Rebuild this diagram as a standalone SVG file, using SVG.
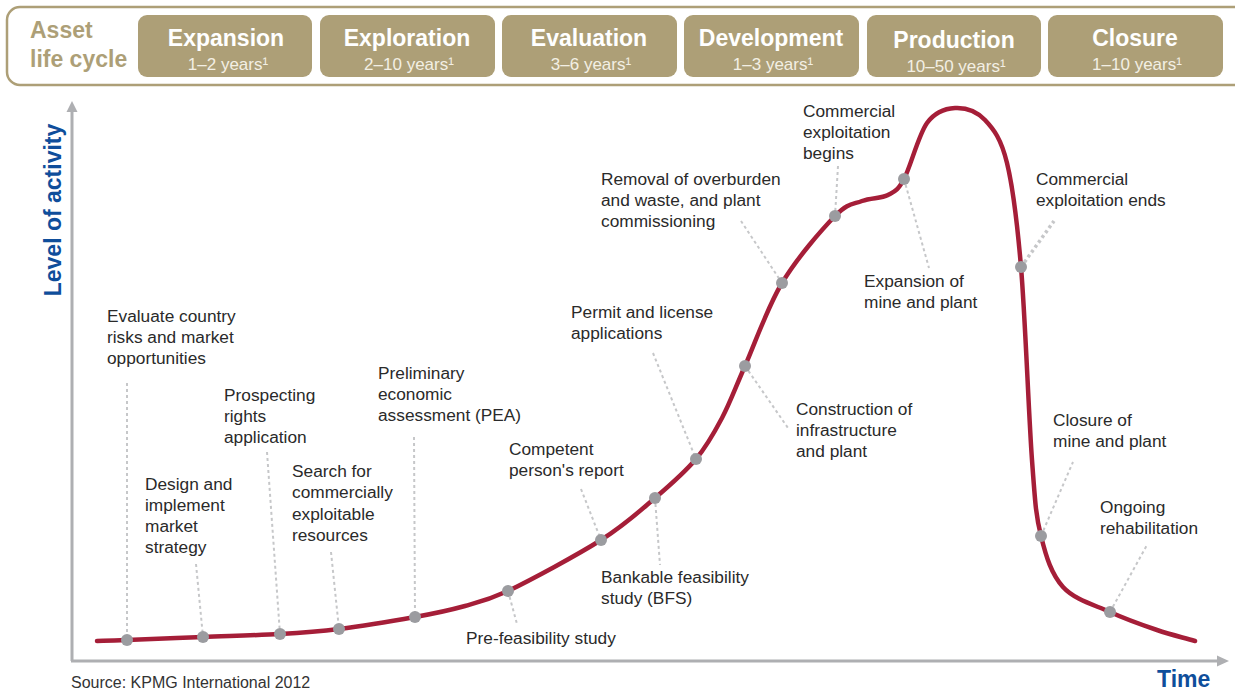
<svg xmlns="http://www.w3.org/2000/svg" width="1235" height="691" viewBox="0 0 1235 691">
<defs>
<style>
.phase rect{fill:#AD9F77;}
.ptitle{font-family:"Liberation Sans",Arial,sans-serif;font-weight:bold;font-size:23px;fill:#ffffff;text-anchor:middle;}
.psub{font-family:"Liberation Sans",Arial,sans-serif;font-size:17px;fill:#f3efe4;text-anchor:middle;}
.lbl{font-family:"Liberation Sans",Arial,sans-serif;font-size:17.3px;fill:#2a2a2a;}
.dot{fill:#9B9CA0;}
.lead{stroke:#C6C7C9;stroke-width:2;stroke-dasharray:3 3;fill:none;}
.axis{stroke:#AEAFB2;stroke-width:3;fill:none;}
.axlbl{font-family:"Liberation Sans",Arial,sans-serif;font-weight:bold;font-size:23px;fill:#0F4E9B;}
</style>
</defs>
<rect width="1235" height="691" fill="#ffffff"/>
<g id="header">
<rect x="7" y="7" width="1250" height="78" rx="13" fill="none" stroke="#AD9F77" stroke-width="2.5"/>
<text x="30" y="38" font-family="Liberation Sans,Arial,sans-serif" font-weight="bold" font-size="23" fill="#AD9F77">Asset</text>
<text x="30" y="67" font-family="Liberation Sans,Arial,sans-serif" font-weight="bold" font-size="23" fill="#AD9F77">life cycle</text>
</g>
<g id="phase-expansion" class="phase"><rect x="138" y="15" width="174" height="62" rx="9"/><text class="ptitle" x="226" y="46">Expansion</text><text class="psub" x="228" y="70">1–2 years¹</text></g>
<g id="phase-exploration" class="phase"><rect x="320" y="15" width="175" height="62" rx="9"/><text class="ptitle" x="407" y="46">Exploration</text><text class="psub" x="409" y="70">2–10 years¹</text></g>
<g id="phase-evaluation" class="phase"><rect x="502" y="15" width="175" height="62" rx="9"/><text class="ptitle" x="589" y="46">Evaluation</text><text class="psub" x="591" y="70">3–6 years¹</text></g>
<g id="phase-development" class="phase"><rect x="684" y="15" width="175" height="62" rx="9"/><text class="ptitle" x="771" y="46">Development</text><text class="psub" x="773" y="70">1–3 years¹</text></g>
<g id="phase-production" class="phase"><rect x="867" y="15" width="174" height="62" rx="9"/><text class="ptitle" x="954" y="48">Production</text><text class="psub" x="956" y="72">10–50 years¹</text></g>
<g id="phase-closure" class="phase"><rect x="1048" y="15" width="175" height="62" rx="9"/><text class="ptitle" x="1135" y="46">Closure</text><text class="psub" x="1137" y="70">1–10 years¹</text></g>

<g id="axes">
<line class="axis" x1="72" y1="661" x2="72" y2="108"/>
<polygon points="72,101 66.5,112 77.5,112" fill="#AEAFB2"/>
<line class="axis" x1="71" y1="661" x2="1220" y2="661"/>
<polygon points="1229,661 1217,655.5 1217,666.5" fill="#AEAFB2"/>
<text class="axlbl" transform="translate(61,210) rotate(-90)" text-anchor="middle">Level of activity</text>
<text class="axlbl" x="1157" y="687">Time</text>
</g>

<g id="connectors">
<line class="lead" x1="127" y1="383" x2="127" y2="640"/>
<line class="lead" x1="196" y1="564" x2="203" y2="637"/>
<line class="lead" x1="267" y1="452" x2="280" y2="634"/>
<line class="lead" x1="331" y1="552" x2="339" y2="629"/>
<line class="lead" x1="414" y1="437" x2="415" y2="617"/>
<line class="lead" x1="508" y1="591" x2="517" y2="624"/>
<line class="lead" x1="581" y1="489" x2="601" y2="540"/>
<line class="lead" x1="655" y1="498" x2="660" y2="565"/>
<line class="lead" x1="653" y1="353" x2="696" y2="459"/>
<line class="lead" x1="745" y1="366" x2="788" y2="428"/>
<line class="lead" x1="741" y1="221" x2="782" y2="283"/>
<line class="lead" x1="838" y1="166" x2="835" y2="216"/>
<line class="lead" x1="904" y1="179" x2="929" y2="268"/>
<line class="lead" x1="1021" y1="267" x2="1054" y2="221" style="stroke-width:3.5"/>
<line class="lead" x1="1041" y1="536" x2="1073" y2="462"/>
<line class="lead" x1="1110" y1="612" x2="1147" y2="545"/>
</g>

<g id="curve">
<path d="M97,641 C107,640.7 109.3,640.7 127,640 C144.7,639.3 177.5,638 203,637 C228.5,636 257.3,635.3 280,634 C302.7,632.7 316.5,631.8 339,629 C361.5,626.2 394,620.8 415,617 C436,613.2 449.5,610.3 465,606 C480.5,601.7 487,600.5 508,591 C530.7,580 576.5,555.5 601,540 C625.5,524.5 639.2,511.5 655,498 C670.8,484.5 684.8,472.3 696,459 C707.2,445.7 713.8,433.5 722,418 C730.2,402.5 735,388.5 745,366 C755,343.5 767,308 782,283 C797,258 821.7,229.7 835,216 C848.3,202.3 853.2,204.5 862,201 C870.8,197.5 881,198.7 888,195 C895,191.3 897.5,191 904,179 C910.5,167 918.5,134.8 927,123 C935.5,111.2 945.3,108.5 955,108 C964.7,107.5 976.3,110.8 985,120 C993.7,129.2 1001,138.5 1007,163 C1013,187.5 1016.8,217.5 1021,267 C1025.2,316.5 1028.7,415.2 1032,460 C1035.3,504.8 1035.8,514.8 1041,536 C1046.2,557.2 1051.5,574.3 1063,587 C1074.5,599.7 1094.3,604.8 1110,612 C1125.7,619.2 1142.8,625.2 1157,630 C1171.2,634.8 1182.3,637.3 1195,641" fill="none" stroke="#A51E38" stroke-width="4.5" stroke-linecap="round"/>
</g>

<g id="n-evaluate-country"><circle class="dot" cx="127" cy="640" r="6"/><text class="lbl" x="107" y="322">Evaluate country<tspan x="107" dy="21">risks and market</tspan><tspan x="107" dy="21">opportunities</tspan></text></g>
<g id="n-design-strategy"><circle class="dot" cx="203" cy="637" r="6"/><text class="lbl" x="145" y="490">Design and<tspan x="145" dy="21">implement</tspan><tspan x="145" dy="21">market</tspan><tspan x="145" dy="21">strategy</tspan></text></g>
<g id="n-prospecting"><circle class="dot" cx="280" cy="634" r="6"/><text class="lbl" x="224" y="401">Prospecting<tspan x="224" dy="21">rights</tspan><tspan x="224" dy="21">application</tspan></text></g>
<g id="n-search"><circle class="dot" cx="339" cy="629" r="6"/><text class="lbl" x="292" y="477">Search for<tspan x="292" dy="21.3">commercially</tspan><tspan x="292" dy="21.3">exploitable</tspan><tspan x="292" dy="21.3">resources</tspan></text></g>
<g id="n-pea"><circle class="dot" cx="415" cy="617" r="6"/><text class="lbl" x="378" y="379">Preliminary<tspan x="378" dy="21">economic</tspan><tspan x="378" dy="21">assessment (PEA)</tspan></text></g>
<g id="n-prefeasibility"><circle class="dot" cx="508" cy="591" r="6"/><text class="lbl" x="466" y="644">Pre-feasibility study</text></g>
<g id="n-competent"><circle class="dot" cx="601" cy="540" r="6"/><text class="lbl" x="509" y="455">Competent<tspan x="509" dy="21">person's report</tspan></text></g>
<g id="n-bfs"><circle class="dot" cx="655" cy="498" r="6"/><text class="lbl" x="601" y="583">Bankable feasibility<tspan x="601" dy="21">study (BFS)</tspan></text></g>
<g id="n-permit"><circle class="dot" cx="696" cy="459" r="6"/><text class="lbl" x="571" y="318">Permit and license<tspan x="571" dy="21">applications</tspan></text></g>
<g id="n-construction"><circle class="dot" cx="745" cy="366" r="6"/><text class="lbl" x="796" y="415">Construction of<tspan x="796" dy="21">infrastructure</tspan><tspan x="796" dy="21">and plant</tspan></text></g>
<g id="n-removal"><circle class="dot" cx="782" cy="283" r="6"/><text class="lbl" x="601" y="185">Removal of overburden<tspan x="601" dy="21">and waste, and plant</tspan><tspan x="601" dy="21">commissioning</tspan></text></g>
<g id="n-exploitation-begins"><circle class="dot" cx="835" cy="216" r="6"/><text class="lbl" x="803" y="117">Commercial<tspan x="803" dy="21">exploitation</tspan><tspan x="803" dy="21">begins</tspan></text></g>
<g id="n-expansion"><circle class="dot" cx="904" cy="179" r="6"/><text class="lbl" x="864" y="287">Expansion of<tspan x="864" dy="21">mine and plant</tspan></text></g>
<g id="n-exploitation-ends"><circle class="dot" cx="1021" cy="267" r="6"/><text class="lbl" x="1036" y="185">Commercial<tspan x="1036" dy="21">exploitation ends</tspan></text></g>
<g id="n-closure"><circle class="dot" cx="1041" cy="536" r="6"/><text class="lbl" x="1053" y="426">Closure of<tspan x="1053" dy="21">mine and plant</tspan></text></g>
<g id="n-rehabilitation"><circle class="dot" cx="1110" cy="612" r="6"/><text class="lbl" x="1100" y="513">Ongoing<tspan x="1100" dy="21">rehabilitation</tspan></text></g>

<text x="71" y="688" font-family="Liberation Sans,Arial,sans-serif" font-size="16" fill="#333333">Source: KPMG International 2012</text>
</svg>
